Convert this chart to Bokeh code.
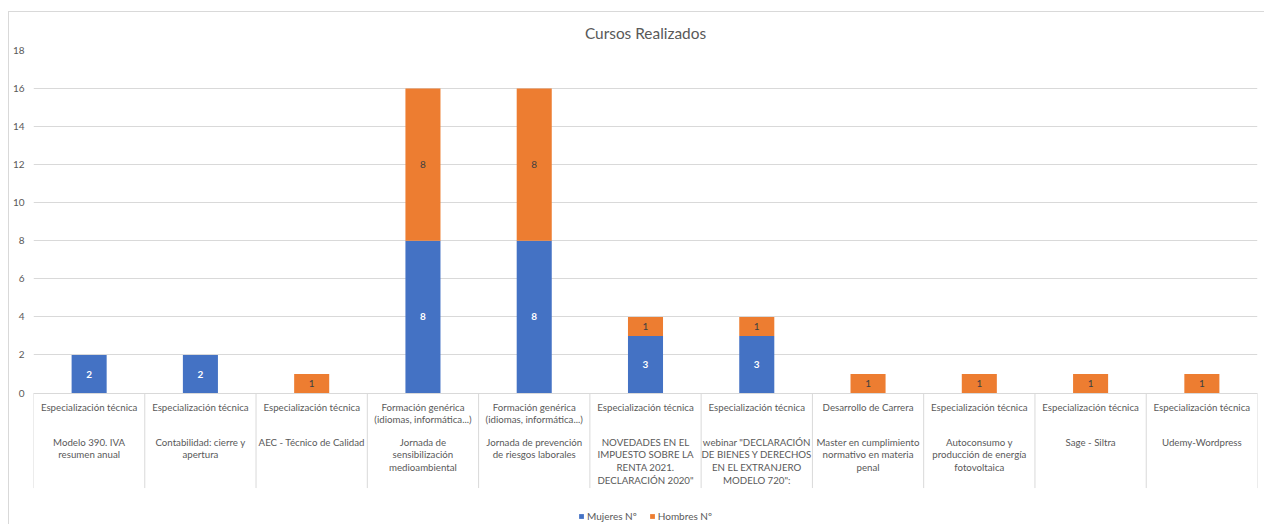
from bokeh.plotting import figure
from bokeh.models import Range1d, FixedTicker, ColumnDataSource, Legend, LegendItem
from bokeh.core.properties import value
from bokeh.embed import file_html
from bokeh.resources import INLINE

# --- data -------------------------------------------------------------
groups = [
    "Especialización técnica",
    "Especialización técnica",
    "Especialización técnica",
    "Formación genérica\n(idiomas, informática...)",
    "Formación genérica\n(idiomas, informática...)",
    "Especialización técnica",
    "Especialización técnica",
    "Desarrollo de Carrera",
    "Especialización técnica",
    "Especialización técnica",
    "Especialización técnica",
]
courses = [
    "Modelo 390. IVA\nresumen anual",
    "Contabilidad: cierre y\napertura",
    "AEC - Técnico de Calidad",
    "Jornada de\nsensibilización\nmedioambiental",
    "Jornada de prevención\nde riesgos laborales",
    "NOVEDADES EN EL\nIMPUESTO SOBRE LA\nRENTA 2021.\nDECLARACIÓN 2020\"",
    "webinar \"DECLARACIÓN\nDE BIENES Y DERECHOS\nEN EL EXTRANJERO\nMODELO 720\":",
    "Master en cumplimiento\nnormativo en materia\npenal",
    "Autoconsumo y\nproducción de energía\nfotovoltaica",
    "Sage - Siltra",
    "Udemy-Wordpress",
]
mujeres = [2, 2, 0, 8, 8, 3, 3, 0, 0, 0, 0]
hombres = [0, 0, 1, 8, 8, 1, 1, 1, 1, 1, 1]
y_ticks = [0, 2, 4, 6, 8, 10, 12, 14, 16, 18]

series_names = ["Mujeres Nº", "Hombres Nº"]
colors = ["#4472C4", "#ED7D31"]
TXT = "#595959"
GRID = "#D9D9D9"
FONT = "Lato"
CAT_SIZE = "9.7px"

n = len(courses)
pos = [i + 0.5 for i in range(n)]

# pixels per y unit (frame is 475 px tall)
Y_MIN, Y_MAX = -6.96, 18
PX = (Y_MAX - Y_MIN) / 475.0

p = figure(
    width=1256, height=513,
    x_range=Range1d(0, n), y_range=Range1d(Y_MIN, Y_MAX),
    output_backend="svg", toolbar_location=None,
    min_border_left=24, min_border_right=8, min_border_top=38, min_border_bottom=0,
    title="Cursos Realizados",
)
p.styles = {
    "margin-left": "8px", "margin-top": "11px",
    "border-top": "1px solid #D9D9D9", "border-left": "1px solid #D9D9D9",
}
p.title.align = "center"
p.title.text_font = FONT
p.title.text_font_size = "15.4px"
p.title.text_font_style = "normal"
p.title.text_color = TXT
p.title.standoff = 18

p.outline_line_color = None
p.background_fill_color = "white"
p.border_fill_color = "white"

# axes
p.xaxis.visible = False
p.xgrid.visible = False
p.yaxis.ticker = FixedTicker(ticks=y_ticks)
p.yaxis.axis_line_color = None
p.yaxis.major_tick_line_color = None
p.yaxis.minor_tick_line_color = None
p.yaxis.major_tick_out = 0
p.yaxis.major_tick_in = 0
p.yaxis.major_label_standoff = 9
p.yaxis.major_label_text_font = FONT
p.yaxis.major_label_text_font_size = "10px"
p.yaxis.major_label_text_color = TXT
p.ygrid.grid_line_color = GRID
p.ygrid.grid_line_width = 1

# stacked bars
src = ColumnDataSource(dict(pos=pos, m=mujeres, h=hombres))
rends = p.vbar_stack(["m", "h"], x="pos", width=0.315, source=src,
                     fill_color=colors, line_color=None)

# value labels
m_idx = [i for i in range(n) if mujeres[i] > 0]
p.text(x=[pos[i] for i in m_idx], y=[mujeres[i] / 2 for i in m_idx],
       text=[str(mujeres[i]) for i in m_idx],
       text_font=value(FONT), text_font_size="10px", text_font_style="bold",
       text_color="white", text_align="center", text_baseline="middle")
h_idx = [i for i in range(n) if hombres[i] > 0]
p.text(x=[pos[i] for i in h_idx], y=[mujeres[i] + hombres[i] / 2 for i in h_idx],
       text=[str(hombres[i]) for i in h_idx],
       text_font=value(FONT), text_font_size="10px",
       text_color="#404040", text_align="center", text_baseline="middle")

# category axis: separators and two label levels
bounds = list(range(n + 1))
p.segment(x0=bounds, y0=[0] * len(bounds), x1=bounds, y1=[-95 * PX] * len(bounds),
          line_color=GRID, line_width=1)
p.text(x=pos, y=[-7.5 * PX] * n, text=groups,
       text_font=value(FONT), text_font_size=CAT_SIZE, text_color=TXT,
       text_align="center", text_baseline="top", text_line_height=1.03)
p.text(x=pos, y=[-42.5 * PX] * n, text=courses,
       text_font=value(FONT), text_font_size=CAT_SIZE, text_color=TXT,
       text_align="center", text_baseline="top", text_line_height=1.07)

# legend
legend = Legend(
    items=[LegendItem(label=series_names[k], renderers=[rends[k]]) for k in range(2)],
    orientation="horizontal", location="bottom_center",
    glyph_width=6, glyph_height=6, label_height=10, label_standoff=3,
    spacing=12, padding=0, margin=3,
    border_line_color=None, background_fill_alpha=0,
    label_text_font=FONT, label_text_font_size="10px", label_text_color=TXT,
)
p.add_layout(legend)

open("out.html", "w").write(file_html(p, INLINE))
